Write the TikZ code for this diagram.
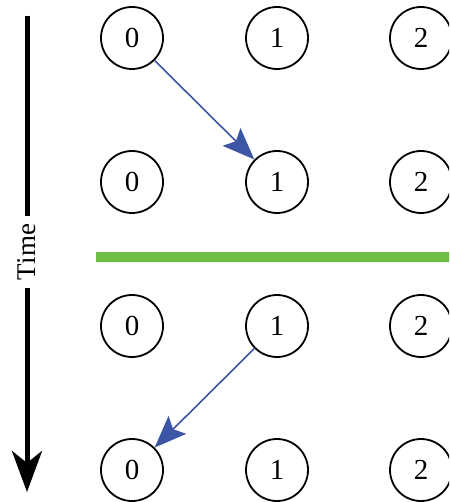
\documentclass[tikz,border=0pt]{standalone}
\usepackage{fontspec}
\setmainfont{Liberation Serif}
\usetikzlibrary{arrows.meta}
\definecolor{msgblue}{RGB}{60,85,165}
\definecolor{cutgreen}{RGB}{110,190,70}
\begin{document}
\begin{tikzpicture}[x=1pt,y=-1pt,
  proc/.style={circle,draw=black,line width=1.8pt,minimum size=62pt,inner sep=0pt,
    font=\fontsize{29}{33}\selectfont},
  msg/.style={draw=msgblue,line width=1.6pt,
    -{Stealth[length=32pt,width=25pt,inset=6pt,fill=msgblue]}},
  timeline/.style={draw=black,line width=5pt,
    -{Stealth[length=41pt,width=30pt,inset=12pt]}},
  cut/.style={draw=cutgreen,line width=10pt}]
  \useasboundingbox (0,0) rectangle (449,502);
  \clip (0,0) rectangle (449,502);

  % process states, one row per instant
  \foreach \r/\y in {a/38,b/182,c/326,d/470}{
    \node[proc] (\r0) at (132,\y) {0};
    \node[proc] (\r1) at (277,\y) {1};
    \node[proc] (\r2) at (421,\y) {2};
  }

  % messages between processes
  \draw[msg] (a0) -- (b1);
  \draw[msg] (c1) -- (d0);

  % cut line
  \coordinate (cutl) at (96,257);
  \coordinate (cutr) at (460,257);
  \draw[cut] (cutl) -- (cutr);

  % time axis
  \coordinate (tstart) at (27,16);
  \coordinate (tend) at (27,492);
  \draw[timeline] (tstart) -- (tend);
  \node[fill=white,rotate=90,inner xsep=8pt,inner ysep=2pt,
    font=\fontsize{27}{31}\selectfont] (time) at (27,252) {Time};
\end{tikzpicture}
\end{document}
